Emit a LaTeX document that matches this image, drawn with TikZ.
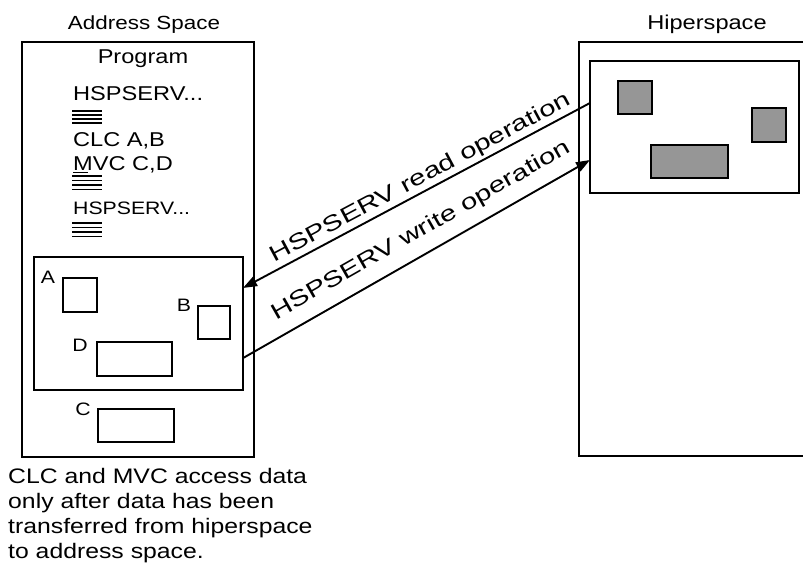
\documentclass[tikz,border=0pt]{standalone}
\usepackage{fontspec}
\setmainfont{Liberation Sans}[FakeStretch=1.18]
\usepackage{graphicx}
\usetikzlibrary{arrows.meta,calc}
\definecolor{boxgray}{RGB}{150,150,150}
\begin{document}
\begin{tikzpicture}[x=1pt,y=-1pt,
  bx/.style={draw, line width=2.2pt, inner sep=0pt, outer sep=0pt, anchor=north west},
  gbx/.style={bx, fill=boxgray},
  txt/.style={inner sep=0pt, font=\fontsize{20}{24}\selectfont},
  lbl/.style={inner sep=0pt, font=\fontsize{18}{22}\selectfont},
  captxt/.style={inner sep=0pt, anchor=base west, font=\fontsize{21}{25}\selectfont},
  bar/.style={line width=1.8pt},
  op/.style={line width=1.9pt, -{Triangle[length=14pt,width=10pt]}},
  oplbl/.style={sloped, inner sep=1pt, font=\fontsize{22}{26}\selectfont}
]
\useasboundingbox (0,0) rectangle (803,570);
\clip (0,0) rectangle (803,570);

% titles
\node[txt, anchor=base, font=\fontsize{19}{23}\selectfont] (astitle) at (144,29) {Address Space};
\node[txt, anchor=base] (hstitle) at (707,29) {Hiperspace};

% address space
\node[bx, minimum width=232pt, minimum height=415pt] (aout) at (22,42) {};
\node[txt, anchor=base] (prog) at (143,63) {Program};
\node[txt, anchor=base west] (l1) at (73,100) {HSPSERV...};
\foreach \yy in {111,115,119,123} \draw[bar] (72,\yy) -- (102,\yy);
\node[txt, anchor=base west] (l2) at (73,146) {CLC A,B};
\node[txt, anchor=base west] (l3) at (73,170) {MVC C,D};
\draw[bar] (73,172.5) -- (88,172.5);
\foreach \yy in {176,180.5,185,189.5} \draw[bar] (72,\yy) -- (102,\yy);
\node[txt, anchor=base west, font=\fontsize{18}{22}\selectfont] (l4) at (73,214) {HSPSERV...};
\foreach \yy in {223,227.5,232,236.5} \draw[bar] (72,\yy) -- (102,\yy);

\node[bx, minimum width=209pt, minimum height=133pt] (ain) at (34,257) {};
\node[bx, minimum width=34pt, minimum height=34pt] (bA) at (63,278) {};
\node[bx, minimum width=32pt, minimum height=33pt] (bB) at (198,306) {};
\node[bx, minimum width=75pt, minimum height=34pt] (bD) at (97,342) {};
\node[bx, minimum width=76pt, minimum height=33pt] (bC) at (98,409) {};
\node[lbl] (tA) at (48,277) {A};
\node[lbl] (tB) at (184,305) {B};
\node[lbl] (tD) at (80,345) {D};
\node[lbl] (tC) at (83,409) {C};

% hiperspace
\node[bx, minimum width=260pt, minimum height=414pt] (hout) at (579,42) {};
\node[bx, minimum width=209pt, minimum height=132pt] (hin) at (590,61) {};
\node[gbx, minimum width=34pt, minimum height=33pt] (g1) at (618,81) {};
\node[gbx, minimum width=34pt, minimum height=34pt] (g2) at (752,108) {};
\node[gbx, minimum width=77pt, minimum height=33pt] (g3) at (651,145) {};

% operations
\draw[op] ($(hin.north west)!0.318!(hin.south west)$) --
  node[oplbl, above=1pt, pos=0.47] {\scalebox{1.13}[1]{HSPSERV read operation}}
  ($(ain.north east)!0.233!(ain.south east)$);
\draw[op] ($(ain.north east)!0.76!(ain.south east)$) --
  node[oplbl, above=10pt, pos=0.545] {\scalebox{1.13}[1]{HSPSERV write operation}}
  ($(hin.north west)!0.75!(hin.south west)$);

% caption
\node[captxt] (c1) at (8,483) {CLC and MVC access data};
\node[captxt] (c2) at (8,508) {only after data has been};
\node[captxt] (c3) at (8,533) {transferred from hiperspace};
\node[captxt] (c4) at (8,558) {to address space.};
\end{tikzpicture}
\end{document}
